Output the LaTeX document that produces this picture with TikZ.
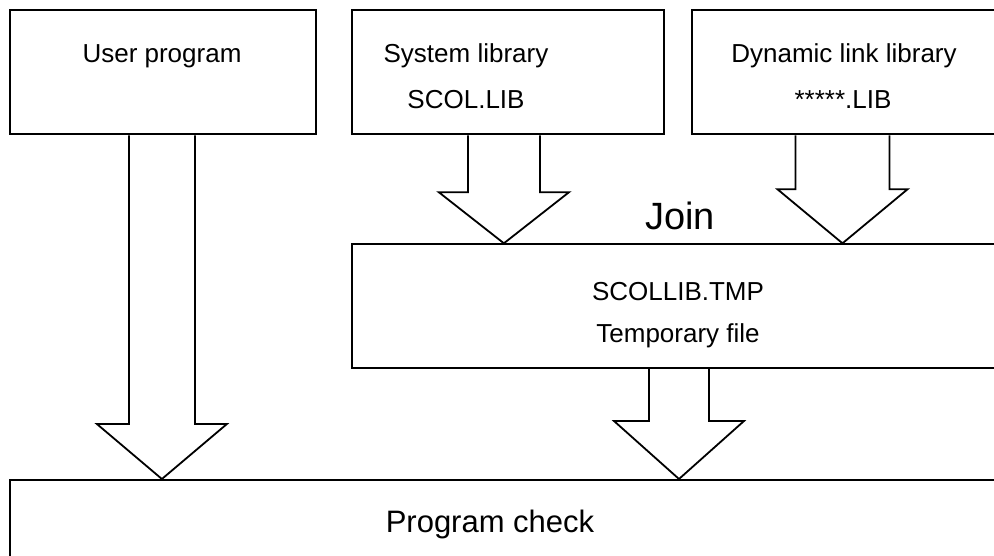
\documentclass[tikz,border=0pt]{standalone}
\usepackage{fontspec}
\setmainfont{Liberation Sans}
\usetikzlibrary{calc}

\tikzset{
  box/.style={draw=black, line width=1.8pt, inner sep=0pt, anchor=north west},
  lbl/.style={inner sep=0pt, font=\fontsize{26}{30}\selectfont},
  biglbl/.style={inner sep=0pt, font=\fontsize{31}{36}\selectfont},
  joinlbl/.style={inner sep=0pt, font=\fontsize{38}{44}\selectfont},
  arrowline/.style={draw=black, line width=1.8pt, line join=miter},
}

% hollow block arrow: #1 shaft half-width, #2 head length, #3 tail, #4 tip
\newcommand\blkarrow[4]{%
  \draw[arrowline] let \p1=(#3), \p2=(#4) in
    (\x1-#1pt,\y1) -- (\x1-#1pt,\y2+#2pt) -- (\x2-65pt,\y2+#2pt) -- (\x2,\y2)
    -- (\x2+65pt,\y2+#2pt) -- (\x1+#1pt,\y2+#2pt) -- (\x1+#1pt,\y1);}

\begin{document}
\begin{tikzpicture}[x=1pt, y=-1pt]
  \useasboundingbox (0,0) rectangle (994,556);
  \fill[white] (0,0) rectangle (994,556);
  \clip (0,0) rectangle (994,556);

  % source boxes
  \node[box, minimum width=306pt, minimum height=124pt] (user) at (9,9.5) {};
  \node[box, minimum width=312pt, minimum height=124pt] (sys)  at (351,9.5) {};
  \node[box, minimum width=400pt, minimum height=124pt] (dll)  at (691,9.5) {};
  % joined temporary file
  \node[box, minimum width=700pt, minimum height=124pt] (tmp)  at (351,243.3) {};
  % program check
  \node[box, minimum width=1100pt, minimum height=200pt] (check) at (9,479) {};

  % labels
  \node[lbl] (userlbl) at (162,56) {User program};
  \node[lbl] (syslbl)  at (466,56) {System library};
  \node[lbl] (syslib)  at (466,100) {SCOL.LIB};
  \node[lbl] (dlllbl)  at (844,56) {Dynamic link library};
  \node[lbl] (dlllib)  at (843,100) {*****.LIB};
  \node[joinlbl] (join) at (680,216) {Join};
  \node[lbl] (tmpname) at (678,292) {SCOLLIB.TMP};
  \node[lbl] (tmplbl)  at (678,336) {Temporary file};
  \node[biglbl] (checklbl) at (490,524) {Program check};

  % arrow end points
  \coordinate (uTail) at ($(user.south)+(-1,0)$);
  \coordinate (uTip)  at (uTail |- check.north);
  \coordinate (sTail) at ($(sys.south)+(-4,0)$);
  \coordinate (sTip)  at (sTail |- tmp.north);
  \coordinate (dTail) at ($(dll.south west)+(151.5,0)$);
  \coordinate (dTip)  at (dTail |- tmp.north);
  \coordinate (tTail) at ($(tmp.south west)+(328,0)$);
  \coordinate (tTip)  at (tTail |- check.north);

  % block arrows
  \blkarrow{33}{55}{uTail}{uTip}
  \blkarrow{36}{51}{sTail}{sTip}
  \blkarrow{47}{54}{dTail}{dTip}
  \blkarrow{30}{58}{tTail}{tTip}
\end{tikzpicture}
\end{document}
